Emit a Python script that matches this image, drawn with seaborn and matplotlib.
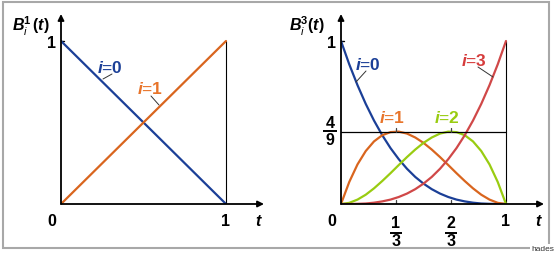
import matplotlib
matplotlib.use("Agg")
import matplotlib.pyplot as plt
import seaborn as sns
import pandas as pd
from matplotlib.patches import Rectangle

# ---------------- data ----------------
t_lin = [0.0, 1.0]
b1_0 = [1.0, 0.0]
b1_1 = [0.0, 1.0]

t_cub = [0.00, 0.05, 0.10, 0.15, 0.20, 0.25, 0.30, 0.35, 0.40, 0.45, 0.50,
         0.55, 0.60, 0.65, 0.70, 0.75, 0.80, 0.85, 0.90, 0.95, 1.00]
b3_0 = [1.000, 0.857, 0.729, 0.614, 0.512, 0.422, 0.343, 0.275, 0.216, 0.166, 0.125,
        0.091, 0.064, 0.043, 0.027, 0.016, 0.008, 0.003, 0.001, 0.000, 0.000]
b3_1 = [0.000, 0.135, 0.243, 0.325, 0.384, 0.422, 0.441, 0.444, 0.432, 0.408, 0.375,
        0.334, 0.288, 0.239, 0.189, 0.141, 0.096, 0.057, 0.027, 0.007, 0.000]
b3_2 = [0.000, 0.007, 0.027, 0.057, 0.096, 0.141, 0.189, 0.239, 0.288, 0.334, 0.375,
        0.408, 0.432, 0.444, 0.441, 0.422, 0.384, 0.325, 0.243, 0.135, 0.000]
b3_3 = [0.000, 0.000, 0.001, 0.003, 0.008, 0.016, 0.027, 0.043, 0.064, 0.091, 0.125,
        0.166, 0.216, 0.275, 0.343, 0.422, 0.512, 0.614, 0.729, 0.857, 1.000]

peak_value = 4 / 9
right_xticks = [1 / 3, 2 / 3]
right_xtick_labels = [("1", "3"), ("2", "3")]
peak_label = ("4", "9")

BLUE = "#1b3f97"
ORANGE = "#d9651e"
ORANGE_T = "#e8742a"
GREEN = "#99cc11"
RED = "#d04848"
RED_T = "#d63c3c"

# ---------------- style ----------------
sns.set_theme(style="white")
plt.rcParams["font.family"] = ["Liberation Sans", "DejaVu Sans"]
plt.rcParams["mathtext.fontset"] = "custom"
plt.rcParams["mathtext.rm"] = "Liberation Sans"
plt.rcParams["mathtext.it"] = "Liberation Sans:italic"
plt.rcParams["mathtext.bf"] = "Liberation Sans:bold"
plt.rcParams["mathtext.bfit"] = "Liberation Sans:italic:bold"

W, H = 557, 255
Y0, SX, SY = 205, 165.0, 163.0
fig = plt.figure(figsize=(W / 100, H / 100), dpi=100)
fig.patch.set_facecolor("white")


def make_ax(x0):
    ax = fig.add_axes([x0 / W, (H - Y0) / H, 205 / W, 193 / H])
    ax.set_xlim(0, 205 / SX)
    ax.set_ylim(0, 193 / SY)
    ax.axis("off")
    return ax


def D(x0, px, py):
    return ((px - x0) / SX, (Y0 - py) / SY)


def axes_frame(ax):
    ax.annotate("", xy=(203 / SX, 0), xytext=(0, 0),
                arrowprops=dict(arrowstyle="-|>", color="black", lw=1.3,
                                mutation_scale=9, shrinkA=0, shrinkB=0))
    ax.annotate("", xy=(0, 190 / SY), xytext=(0, 0),
                arrowprops=dict(arrowstyle="-|>", color="black", lw=1.3,
                                mutation_scale=9, shrinkA=0, shrinkB=0))
    ax.plot([1, 1], [0, 1], color="black", lw=0.8)
    ax.plot([0, 3 / SX], [1, 1], color="black", lw=1.0)


FS = 11.5
NUM = dict(fontsize=FS, fontweight="bold", ha="center", va="center", color="black")


def num_labels(ax, x0):
    ax.text(*D(x0, x0 - 9, 44), "1", **NUM)
    ax.annotate("0", xy=(0, 0), xytext=(-9, -17), textcoords="offset pixels", **NUM)
    ax.annotate("1", xy=(1, 0), xytext=(0, -17), textcoords="offset pixels", **NUM)
    ax.annotate("t", xy=(1, 0), xytext=(32, -17), textcoords="offset pixels",
                fontsize=FS, fontweight="bold", style="italic",
                ha="center", va="center", color="black")


def label(ax, x0, px, py, s, color, lx0, ly0, lx1, ly1):
    ax.text(*D(x0, px, py), r"$\mathbfit{i}$=" + r"$\mathbf{" + s + "}$",
            fontsize=12.5, ha="center", va="center", color=color)
    (a, b), (c, d) = D(x0, lx0, ly0), D(x0, lx1, ly1)
    ax.plot([a, c], [b, d], color="#333333", lw=0.7)


# ---------------- left panel ----------------
XL = 61
axL = make_ax(XL)
axes_frame(axL)
df_lin = pd.DataFrame({"t": t_lin, "b0": b1_0, "b1": b1_1})
sns.lineplot(data=df_lin, x="t", y="b0", ax=axL, color=BLUE, lw=1.6, estimator=None)
sns.lineplot(data=df_lin, x="t", y="b1", ax=axL, color=ORANGE, lw=1.6, estimator=None)
axL.set_xlim(0, 205 / SX)
axL.set_ylim(0, 193 / SY)
num_labels(axL, XL)
label(axL, XL, 110, 68, "0", BLUE, 103, 80, 112, 75)
label(axL, XL, 150, 89, "1", ORANGE_T, 151, 97, 159, 106)
axL.text(*D(XL, 12, 26),
         r"$\mathbfit{B}_{\mathit{i}}^{\mathbf{1}}\,\mathbf{(}\mathbfit{t}\mathbf{)}$",
         fontsize=11.5, ha="left", va="center", color="black")

# ---------------- right panel ----------------
XR = 341
axR = make_ax(XR)
axes_frame(axR)
df_cub = pd.DataFrame({"t": t_cub, "b0": b3_0, "b1": b3_1, "b2": b3_2, "b3": b3_3})
for col, c in zip(["b0", "b1", "b2", "b3"], [BLUE, ORANGE, GREEN, RED]):
    sns.lineplot(data=df_cub, x="t", y=col, ax=axR, color=c, lw=1.6, estimator=None)
axR.set_xlim(0, 205 / SX)
axR.set_ylim(0, 193 / SY)
axR.plot([0, 1], [peak_value, peak_value], color="black", lw=0.9)
for xt, (nu, de) in zip(right_xticks, right_xtick_labels):
    axR.plot([xt, xt], [peak_value, peak_value + 4 / SY], color="#444444", lw=0.9)
    axR.plot([xt, xt], [0, 4 / SY], color="#444444", lw=0.9)
    axR.annotate(nu, xy=(xt, 0), xytext=(0, -19), textcoords="offset pixels", **NUM)
    axR.annotate(de, xy=(xt, 0), xytext=(0, -37), textcoords="offset pixels", **NUM)
    axR.plot([xt - 6 / SX, xt + 6 / SX], [-28.5 / SY, -28.5 / SY], color="black",
             lw=1.4, clip_on=False, solid_capstyle="butt")
axR.annotate(peak_label[0], xy=(0, peak_value), xytext=(-11, 9),
             textcoords="offset pixels", **NUM)
axR.annotate(peak_label[1], xy=(0, peak_value), xytext=(-11, -8),
             textcoords="offset pixels", **NUM)
axR.plot([-18 / SX, -4 / SX], [peak_value + 0.5 / SY] * 2, color="black", lw=1.4,
         clip_on=False, solid_capstyle="butt")
num_labels(axR, XR)
label(axR, XR, 368, 65, "0", BLUE, 366, 72, 356, 83)
label(axR, XR, 392, 118, "1", ORANGE_T, 396, 124, 396, 124)
label(axR, XR, 447, 118, "2", GREEN, 451, 124, 451, 124)
label(axR, XR, 474, 61, "3", RED_T, 478, 68, 493, 78)
axR.text(*D(XR, 289, 26),
         r"$\mathbfit{B}_{\mathit{i}}^{\mathbf{3}}\mathbf{(}\mathbfit{t}\mathbf{)}$",
         fontsize=11.5, ha="left", va="center", color="black")

# ---------------- frame ----------------
fig.patches.append(Rectangle((2.5 / W, 1 - 249 / H), 546.5 / W, 246 / H,
                             transform=fig.transFigure, fill=False,
                             edgecolor="#a8a8a8", lw=1.5))
fig.text(543 / W, 1 - 250 / H, "hades", fontsize=6, color="#333333",
         ha="center", va="center",
         bbox=dict(facecolor="white", edgecolor="none", pad=1.0))

fig.savefig("out.png", dpi=100, facecolor="white")
